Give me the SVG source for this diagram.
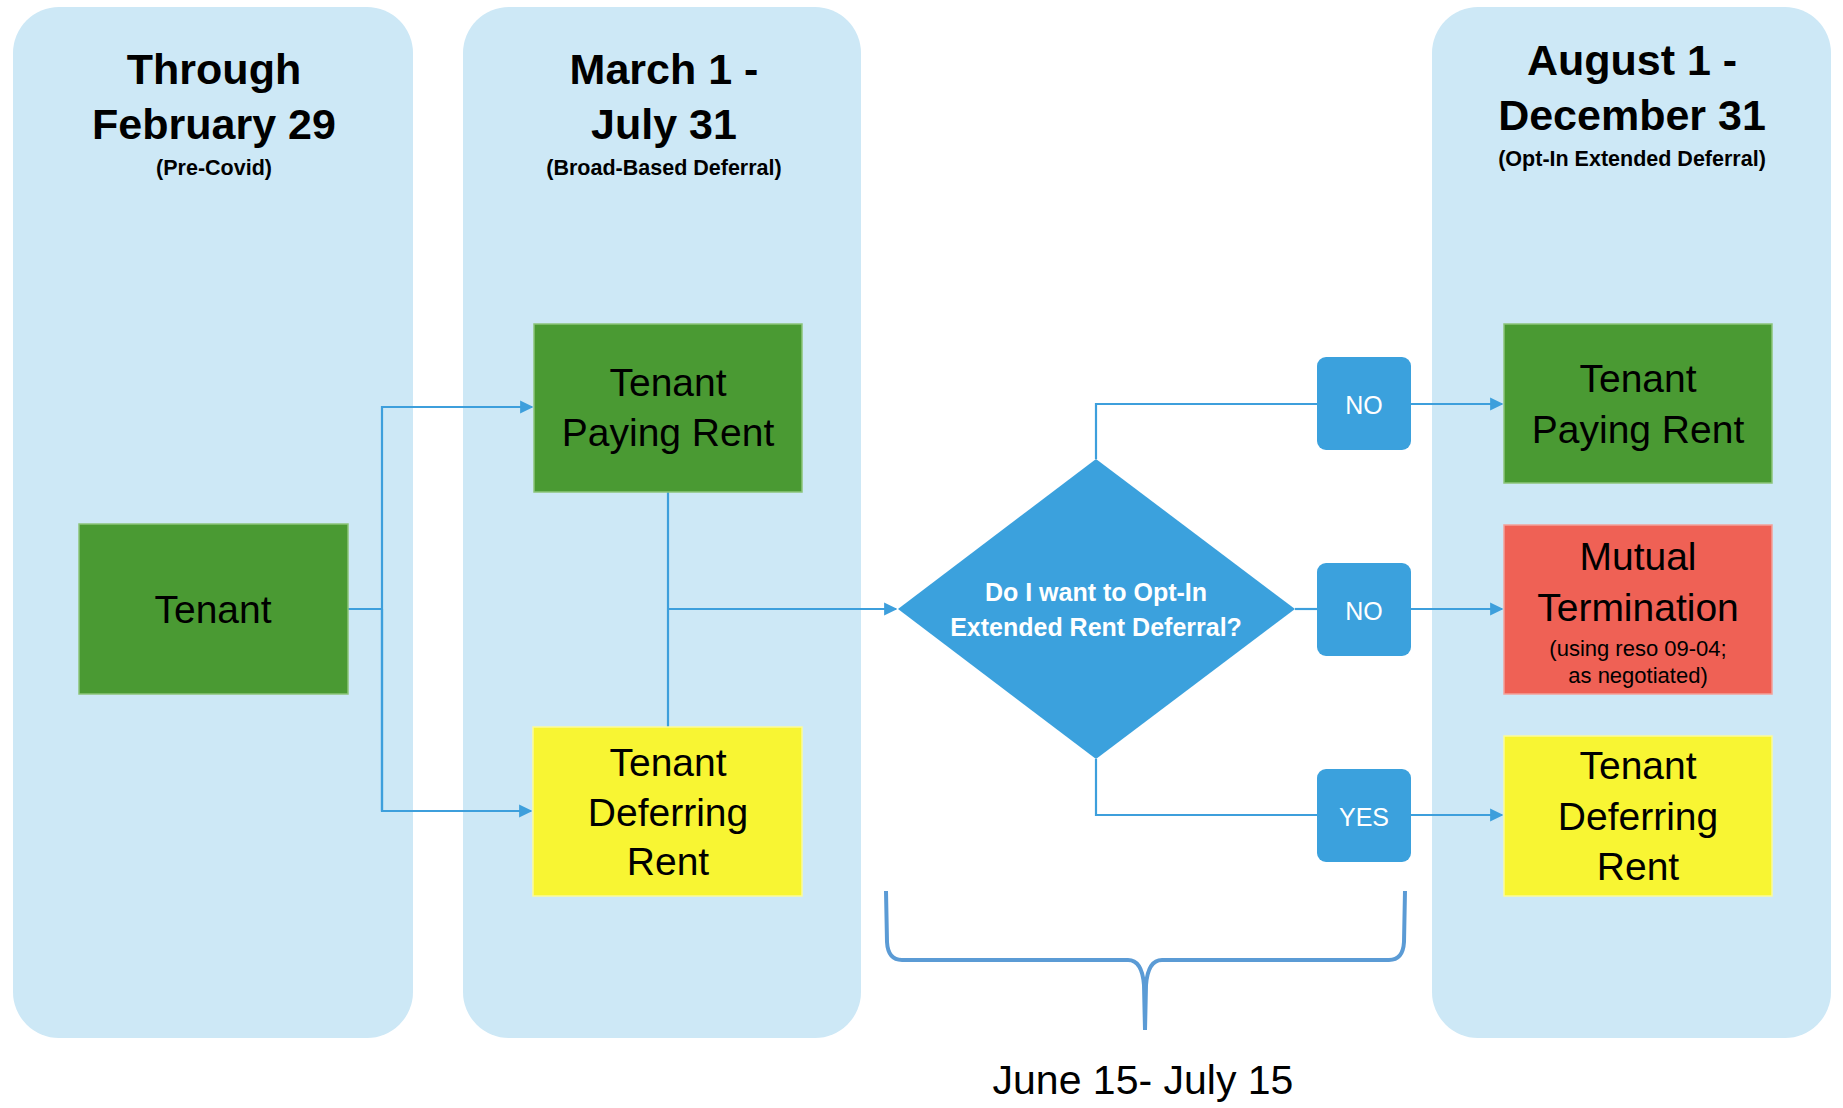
<svg xmlns="http://www.w3.org/2000/svg" width="1843" height="1108" viewBox="0 0 1843 1108">
<style>
.lane{fill:#CDE8F6}
.t{font-family:"Liberation Sans",Arial,sans-serif;text-anchor:middle;fill:#000}
.h{font-size:43px;font-weight:bold}
.s{font-size:21.5px;font-weight:bold}
.b{font-size:39px}
.sm{font-size:22px}
.w{fill:#fff}
.green{fill:#4A9A33;stroke:#8CC47A;stroke-width:1.5}
.yellow{fill:#F8F533;stroke:#FBFA9A;stroke-width:1.5}
.red{fill:#EF6155;stroke:#F4A099;stroke-width:1.5}
.lbl{fill:#3BA1DD}
.c{fill:none;stroke:#3D9FDC;stroke-width:2.2}
.brace{fill:none;stroke:#5B9BD5;stroke-width:4;stroke-linejoin:round}
</style>
<defs>
<marker id="arr" viewBox="0 0 10 10" refX="9" refY="5" markerWidth="6" markerHeight="6" markerUnits="strokeWidth" orient="auto">
<path d="M0,0 L10,5 L0,10 z" fill="#3D9FDC"/>
</marker>
</defs>
<rect width="1843" height="1108" fill="#fff"/>
<g id="lane1">
<rect class="lane" x="13" y="7" width="400" height="1031" rx="46" ry="46"/>
<text class="t h" x="214" y="84">Through</text>
<text class="t h" x="214" y="139">February 29</text>
<text class="t s" x="214" y="175">(Pre-Covid)</text>
</g>
<g id="lane2">
<rect class="lane" x="463" y="7" width="398" height="1031" rx="46" ry="46"/>
<text class="t h" x="664" y="84">March 1 -</text>
<text class="t h" x="664" y="139">July 31</text>
<text class="t s" x="664" y="175">(Broad-Based Deferral)</text>
</g>
<g id="lane3">
<rect class="lane" x="1432" y="7" width="399" height="1031" rx="46" ry="46"/>
<text class="t h" x="1632" y="75">August 1 -</text>
<text class="t h" x="1632" y="130">December 31</text>
<text class="t s" x="1632" y="166">(Opt-In Extended Deferral)</text>
</g>
<g id="connectors">
<polyline class="c" points="348,609 382,609"/>
<polyline class="c" points="382,811 382,407 532,407" marker-end="url(#arr)"/>
<polyline class="c" points="382,609 382,811 531,811" marker-end="url(#arr)"/>
<polyline class="c" points="668,492 668,727"/>
<polyline class="c" points="668,609 896,609" marker-end="url(#arr)"/>
<polyline class="c" points="1096,459 1096,404 1317,404"/>
<polyline class="c" points="1411,404 1502,404" marker-end="url(#arr)"/>
<polyline class="c" points="1295,609 1317,609"/>
<polyline class="c" points="1411,609 1502,609" marker-end="url(#arr)"/>
<polyline class="c" points="1096,759 1096,815 1317,815"/>
<polyline class="c" points="1411,815 1502,815" marker-end="url(#arr)"/>
</g>
<g id="tenant">
<rect class="green" x="79" y="524" width="269" height="170"/>
<text class="t b" x="213" y="623">Tenant</text>
</g>
<g id="paying1">
<rect class="green" x="534" y="324" width="268" height="168"/>
<text class="t b" x="668" y="396">Tenant</text>
<text class="t b" x="668" y="446">Paying Rent</text>
</g>
<g id="deferring1">
<rect class="yellow" x="533" y="727" width="269" height="169"/>
<text class="t b" x="668" y="776">Tenant</text>
<text class="t b" x="668" y="826">Deferring</text>
<text class="t b" x="668" y="875">Rent</text>
</g>
<g id="decision">
<polygon points="1096,459 1295,609 1096,759 898,609" fill="#3BA1DD"/>
<text class="t w" x="1096" y="601" style="font-size:25px;font-weight:bold">Do I want to Opt-In</text>
<text class="t w" x="1096" y="636" style="font-size:25px;font-weight:bold">Extended Rent Deferral?</text>
</g>
<g id="no1">
<rect class="lbl" x="1317" y="357" width="94" height="93" rx="9"/>
<text class="t w" x="1364" y="414" style="font-size:25px">NO</text>
</g>
<g id="no2">
<rect class="lbl" x="1317" y="563" width="94" height="93" rx="9"/>
<text class="t w" x="1364" y="620" style="font-size:25px">NO</text>
</g>
<g id="yes">
<rect class="lbl" x="1317" y="769" width="94" height="93" rx="9"/>
<text class="t w" x="1364" y="826" style="font-size:25px">YES</text>
</g>
<g id="paying2">
<rect class="green" x="1504" y="324" width="268" height="159"/>
<text class="t b" x="1638" y="392">Tenant</text>
<text class="t b" x="1638" y="443">Paying Rent</text>
</g>
<g id="termination">
<rect class="red" x="1504" y="525" width="268" height="169"/>
<text class="t b" x="1638" y="570">Mutual</text>
<text class="t b" x="1638" y="621">Termination</text>
<text class="t sm" x="1638" y="656">(using reso 09-04;</text>
<text class="t sm" x="1638" y="683">as negotiated)</text>
</g>
<g id="deferring2">
<rect class="yellow" x="1504" y="736" width="268" height="160"/>
<text class="t b" x="1638" y="779">Tenant</text>
<text class="t b" x="1638" y="830">Deferring</text>
<text class="t b" x="1638" y="880">Rent</text>
</g>
<g id="brace">
<path class="brace" d="M886,891 L887,942 Q888,960 902,960 L1128,960 Q1142,960 1144,985 L1145,1030"/>
<path class="brace" d="M1405,891 L1404,942 Q1403,960 1389,960 L1162,960 Q1148,960 1146,985 L1145,1030"/>
<text class="t" x="1143" y="1094" style="font-size:41px">June 15- July 15</text>
</g>
</svg>
